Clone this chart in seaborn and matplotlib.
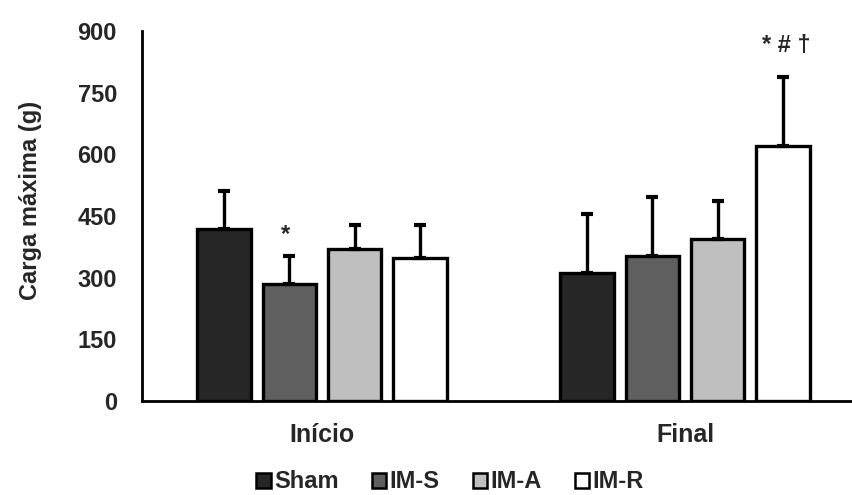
import matplotlib
matplotlib.use("Agg")
import matplotlib.pyplot as plt
import seaborn as sns
import pandas as pd
from matplotlib.patches import Patch

sns.set_style("white")
plt.rcParams['font.family'] = ['Liberation Sans', 'DejaVu Sans']
plt.rcParams['font.weight'] = 'bold'

moments = ["Início", "Final"]
groups = ["Sham", "IM-S", "IM-A", "IM-R"]
means_inicio = [419, 285, 370, 349]
means_final = [311, 353, 394, 621]
sd_inicio = [91, 68, 59, 80]
sd_final = [144, 144, 93, 168]
colors = ["#262626", "#5f5f5f", "#bfbfbf", "#ffffff"]
yticks = [0, 150, 300, 450, 600, 750, 900]

rows = []
for m, means, sds in [(moments[0], means_inicio, sd_inicio), (moments[1], means_final, sd_final)]:
    for g, v, s in zip(groups, means, sds):
        rows.append({"Momento": m, "Grupo": g, "Carga": v, "SD": s})
df = pd.DataFrame(rows)

FS = 17

fig = plt.figure(figsize=(8.53, 4.95), dpi=100)
ax = fig.add_axes([142/853, 1-401/495, (853-142)/853, (401-31)/495])

sns.barplot(data=df, x="Momento", y="Carga", hue="Grupo", order=moments,
            hue_order=groups, palette=colors, width=0.72, gap=0.18,
            edgecolor="black", linewidth=2.4, errorbar=None, legend=False, ax=ax)

# patches are ordered by hue group, then by category
order_rows = []
for g in groups:
    for m in moments:
        order_rows.append(df[(df.Grupo == g) & (df.Momento == m)].iloc[0])
for patch, r in zip(ax.patches, order_rows):
    xc = patch.get_x() + patch.get_width() / 2
    h = patch.get_height()
    ax.errorbar(xc, h, yerr=[[0], [r.SD]], fmt="none", ecolor="black",
                elinewidth=2.4, capsize=4.5, capthick=3, zorder=1)

# significance markers
ims_inicio = ax.patches[groups.index("IM-S") * 2 + 0]
ax.text(ims_inicio.get_x() + ims_inicio.get_width() / 2 - 0.01, 378, "*",
        ha="center", va="bottom", fontsize=FS, fontweight="bold")
imr_final = ax.patches[groups.index("IM-R") * 2 + 1]
ax.text(imr_final.get_x() + imr_final.get_width() / 2 + 0.008, 836, "* # †",
        ha="center", va="bottom", fontsize=FS, fontweight="bold")

ax.set_ylim(0, 900)
ax.set_xlim(-0.496, 1.463)
ax.set_yticks(yticks)
ax.set_yticklabels([str(t) for t in yticks], fontsize=FS, fontweight="bold")
ax.tick_params(axis="y", length=0, pad=18)
ax.tick_params(axis="x", length=0, pad=16)
for lbl in ax.get_xticklabels():
    lbl.set_fontsize(FS + 1)
    lbl.set_fontweight("bold")
ax.set_xlabel("")
ax.set_ylabel("Carga máxima (g)", fontsize=FS, fontweight="bold")
ax.yaxis.set_label_coords(-0.140, 0.543)
for s in ["top", "right"]:
    ax.spines[s].set_visible(False)
for s in ["left", "bottom"]:
    ax.spines[s].set_linewidth(2.0)
    ax.spines[s].set_color("black")

handles = [Patch(facecolor=c, edgecolor="black", linewidth=1.8) for c in colors]
fig.legend(handles, groups, loc="center", bbox_to_anchor=(450/853, 1-482/495),
           ncol=4, frameon=False, handlelength=0.6, handleheight=0.6,
           handletextpad=0.15, columnspacing=1.4,
           prop={"size": FS, "weight": "bold"})

fig.savefig("out.png", dpi=100)
